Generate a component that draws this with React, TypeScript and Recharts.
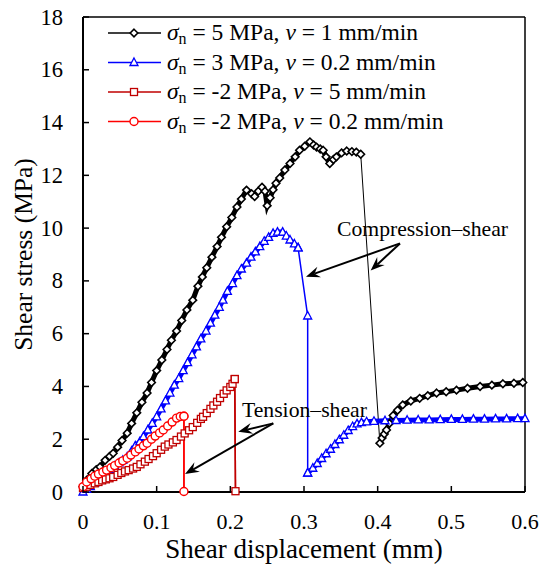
import React from 'react';
import { ComposedChart, Line, XAxis, YAxis, ReferenceLine, ReferenceDot } from 'recharts';

const FONT = "'Liberation Serif', 'Times New Roman', Times, serif";
const TXT = { fontFamily: FONT };

// sigma_n = 5 MPa, v = 1 mm/min
const blackX = [
  0, 0.005, 0.012, 0.018, 0.023, 0.03, 0.036, 0.041, 0.047, 0.053, 0.06, 0.066, 0.073, 0.08, 0.087, 0.093,
  0.1, 0.107, 0.114, 0.12, 0.127, 0.134, 0.141, 0.149, 0.156, 0.162, 0.168, 0.175, 0.182, 0.188, 0.195,
  0.202, 0.209, 0.215, 0.222, 0.229, 0.233, 0.238, 0.243, 0.247, 0.25, 0.254, 0.258, 0.262, 0.267, 0.274,
  0.281, 0.288, 0.294, 0.301, 0.308, 0.313, 0.317, 0.322, 0.326, 0.33, 0.335, 0.34, 0.344, 0.351, 0.358,
  0.365, 0.371, 0.377,
  0.403, 0.406, 0.409, 0.412, 0.416, 0.421, 0.427, 0.434, 0.445, 0.457, 0.468, 0.48, 0.493, 0.507, 0.522,
  0.539, 0.555, 0.57, 0.585, 0.597,
];
const blackY = [
  0.2, 0.45, 0.7, 0.85, 0.95, 1.2, 1.35, 1.47, 1.7, 1.95, 2.23, 2.6, 3.0, 3.4, 3.75, 4.15,
  4.6, 5.0, 5.4, 5.75, 6.1, 6.5, 6.9, 7.27, 7.8, 8.15, 8.5, 8.9, 9.3, 9.65, 10.05,
  10.4, 10.8, 11.1, 11.44, 11.3, 11.2, 11.4, 11.55, 11.4, 10.85, 11.15, 11.45, 11.7, 11.9, 12.2,
  12.45, 12.7, 12.95, 13.1, 13.27, 13.15, 13.07, 13.0, 12.95, 12.7, 12.45, 12.6, 12.7, 12.85, 12.92,
  12.9, 12.88, 12.8,
  1.85, 2.05, 2.2, 2.35, 2.6, 2.9, 3.1, 3.3, 3.45, 3.55, 3.65, 3.75, 3.8, 3.86, 3.93,
  4.0, 4.05, 4.1, 4.12, 4.15,
];

// sigma_n = 3 MPa, v = 0.2 mm/min
const blueX = [
  0, 0.005, 0.01, 0.016, 0.021, 0.027, 0.032, 0.038, 0.043, 0.049, 0.054, 0.06, 0.066, 0.071, 0.077, 0.082,
  0.088, 0.094, 0.1, 0.106, 0.112, 0.118, 0.124, 0.13, 0.136, 0.142, 0.148, 0.154, 0.16, 0.167, 0.173,
  0.179, 0.185, 0.19, 0.196, 0.203, 0.209, 0.215, 0.222, 0.228, 0.234, 0.24, 0.246, 0.252, 0.258, 0.264,
  0.271, 0.276, 0.281, 0.287, 0.292, 0.305, 0.305,
  0.312, 0.318, 0.324, 0.33, 0.336, 0.342, 0.348, 0.354, 0.36, 0.366, 0.372, 0.378, 0.385, 0.395, 0.41,
  0.425, 0.44, 0.455, 0.47, 0.485, 0.5, 0.515, 0.53, 0.545, 0.56, 0.575, 0.59, 0.6,
];
const blueY = [
  0, 0.1, 0.2, 0.35, 0.45, 0.58, 0.7, 0.85, 0.98, 1.1, 1.2, 1.33, 1.55, 1.75, 1.9, 2.1,
  2.35, 2.6, 2.85, 3.15, 3.45, 3.75, 4.05, 4.3, 4.6, 4.9, 5.2, 5.5, 5.8, 6.1, 6.4,
  6.7, 7.0, 7.27, 7.6, 7.9, 8.2, 8.45, 8.67, 8.9, 9.1, 9.3, 9.5, 9.65, 9.8, 9.85,
  9.85, 9.7, 9.55, 9.4, 9.25, 6.67, 0.72,
  0.9, 1.08, 1.27, 1.45, 1.62, 1.8, 1.98, 2.15, 2.33, 2.48, 2.58, 2.63, 2.66, 2.68, 2.7,
  2.71, 2.72, 2.73, 2.73, 2.74, 2.75, 2.75, 2.76, 2.76, 2.77, 2.77, 2.78, 2.78,
];

// sigma_n = -2 MPa, v = 5 mm/min
const darkRedX = [
  0, 0.005, 0.01, 0.016, 0.021, 0.026, 0.031, 0.036, 0.041, 0.047, 0.052, 0.057, 0.062, 0.068, 0.073,
  0.078, 0.084, 0.089, 0.095, 0.1, 0.106, 0.111, 0.116, 0.122, 0.127, 0.133, 0.138, 0.144, 0.149, 0.155,
  0.16, 0.163, 0.168, 0.173, 0.177, 0.182, 0.186, 0.191, 0.195, 0.2, 0.203, 0.206, 0.207,
];
const darkRedY = [
  0.15, 0.2, 0.27, 0.33, 0.38, 0.44, 0.48, 0.52, 0.57, 0.65, 0.72, 0.78, 0.83, 0.89, 0.95,
  1.05, 1.15, 1.25, 1.36, 1.47, 1.6, 1.72, 1.8, 1.88, 1.97, 2.1, 2.22, 2.34, 2.46, 2.62,
  2.77, 2.85, 2.99, 3.15, 3.28, 3.42, 3.56, 3.72, 3.85, 3.98, 4.1, 4.28, 0.03,
];

// sigma_n = -2 MPa, v = 0.2 mm/min
const redX = [
  0, 0.005, 0.011, 0.016, 0.021, 0.027, 0.032, 0.038, 0.043, 0.049, 0.054, 0.06, 0.065, 0.071, 0.076,
  0.082, 0.087, 0.093, 0.098, 0.104, 0.109, 0.115, 0.121, 0.127, 0.132, 0.137, 0.137,
];
const redY = [
  0.2, 0.38, 0.5, 0.6, 0.68, 0.76, 0.83, 0.92, 1.0, 1.1, 1.18, 1.28, 1.4, 1.52, 1.63,
  1.75, 1.85, 2.0, 2.12, 2.24, 2.35, 2.5, 2.65, 2.8, 2.86, 2.87, 0.02,
];

const xTicks = [0, 0.1, 0.2, 0.3, 0.4, 0.5, 0.6];
const yTicks = [0, 2, 4, 6, 8, 10, 12, 14, 16, 18];

const legendRows = [
  { sigma: '5', v: '1', color: '#000000', marker: 'diamond' },
  { sigma: '3', v: '0.2', color: '#0000ff', marker: 'triangle' },
  { sigma: '-2', v: '5', color: '#c00000', marker: 'square' },
  { sigma: '-2', v: '0.2', color: '#ff0000', marker: 'circle' },
];

const toPoints = (xs: number[], ys: number[]) => xs.map((x, i) => ({ x, y: ys[i] }));
const blackData = toPoints(blackX, blackY);
const blueData = toPoints(blueX, blueY);
const darkRedData = toPoints(darkRedX, darkRedY);
const redData = toPoints(redX, redY);

// dense recorded stretches (the drops between them are single segments)
const blackPre = blackData.slice(0, 64);
const blackPost = blackData.slice(64);
const bluePre = blueData.slice(0, 51);
const bluePost = blueData.slice(52);
const darkRedPre = darkRedData.slice(0, 42);
const redPre = redData.slice(0, 26);

function Marker({ type, cx, cy, color }: { type: string; cx: number; cy: number; color: string }) {
  if (type === 'diamond') {
    const s = 3.8;
    return <polygon points={`${cx},${cy - s} ${cx + s},${cy} ${cx},${cy + s} ${cx - s},${cy}`} fill="#fff" stroke={color} strokeWidth={1.6} />;
  }
  if (type === 'triangle') {
    return <polygon points={`${cx},${cy - 4.5} ${cx + 4},${cy + 3} ${cx - 4},${cy + 3}`} fill="#fff" stroke={color} strokeWidth={1.3} />;
  }
  if (type === 'square') {
    return <rect x={cx - 3.5} y={cy - 3.5} width={7} height={7} fill="#fff" stroke={color} strokeWidth={1.3} />;
  }
  return <circle cx={cx} cy={cy} r={4} fill="#fff" stroke={color} strokeWidth={1.4} />;
}

const dotFor = (type: string, color: string) => (p: any) => (
  <Marker key={`${type}-${p.index}`} type={type} cx={p.cx} cy={p.cy} color={color} />
);

const XTick = ({ x, y, payload }: any) => (
  <g>
    <line x1={x} y1={y} x2={x} y2={y - 6} stroke="#000" strokeWidth={1.5} />
    <text x={x} y={y + 37} textAnchor="middle" style={TXT} fontSize={22} fill="#000">
      {String(payload.value)}
    </text>
  </g>
);

const YTick = ({ x, y, payload }: any) => (
  <g>
    <line x1={x} y1={y} x2={x + 6} y2={y} stroke="#000" strokeWidth={1.5} />
    <text x={x - 20} y={y + 7.5} textAnchor="end" style={TXT} fontSize={22.5} fill="#000">
      {String(payload.value)}
    </text>
  </g>
);

// line with a filled, notched arrow head at the second point
const arrowShape = (p: any) => {
  const { x1, y1, x2, y2 } = p;
  const a = Math.atan2(y2 - y1, x2 - x1);
  const c = Math.cos(a), s = Math.sin(a);
  const L = 14, W = 5.5;
  const bx = x2 - L * c, by = y2 - L * s;
  const nx = x2 - L * 0.65 * c, ny = y2 - L * 0.65 * s;
  return (
    <g>
      <line x1={x1} y1={y1} x2={nx} y2={ny} stroke="#000" strokeWidth={2} />
      <polygon
        points={`${x2},${y2} ${bx - s * W},${by + c * W} ${nx},${ny} ${bx + s * W},${by - c * W}`}
        fill="#000"
      />
    </g>
  );
};

const noteShape = (text: string) => (p: any) => (
  <text x={p.cx} y={p.cy} style={TXT} fontSize={21.7} fill="#000">{text}</text>
);

const XLabel = ({ viewBox }: any) => (
  <text x={viewBox.x + viewBox.width / 2} y={558} textAnchor="middle" style={TXT} fontSize={27} fill="#000">
    Shear displacement (mm)
  </text>
);

const YLabel = ({ viewBox }: any) => {
  const cy = viewBox.y + viewBox.height / 2;
  return (
    <text x={32} y={cy} transform={`rotate(-90 32 ${cy})`} textAnchor="middle" style={TXT} fontSize={25.5} fill="#000">
      Shear stress (MPa)
    </text>
  );
};

function LegendBlock() {
  return (
    <g>
      {legendRows.map((r, i) => {
        const cy = 33 + i * 29.5;
        return (
          <g key={i}>
            <line x1={108} y1={cy} x2={161} y2={cy} stroke={r.color} strokeWidth={1.5} />
            <Marker type={r.marker} cx={134} cy={cy} color={r.color} />
            <text x={167} y={cy + 7} style={TXT} fontSize={23.5} fill="#000">
              <tspan fontStyle="italic">σ</tspan>
              <tspan fontSize={16} dy={4}>n</tspan>
              <tspan dy={-4}>{` = ${r.sigma} MPa, `}</tspan>
              <tspan fontStyle="italic">v</tspan>
              <tspan>{` = ${r.v} mm/min`}</tspan>
            </text>
          </g>
        );
      })}
    </g>
  );
}

const band = (data: any[], color: string, marker: string, width = 5) => (
  <Line data={data} dataKey="y" type="linear" stroke={color} strokeWidth={width} dot={dotFor(marker, color)} activeDot={false} isAnimationActive={false} />
);

export default function App() {
  return (
    <div style={{ position: 'absolute', left: 0, top: 0, background: '#fff', fontFamily: FONT }}>
      <ComposedChart width={542} height={564} margin={{ top: 17, right: 17, bottom: 0, left: 0 }} style={TXT}>
        <XAxis
          type="number"
          dataKey="x"
          domain={[0, 0.6]}
          ticks={xTicks}
          height={72}
          tickSize={0}
          tickMargin={0}
          tickLine={false}
          tick={<XTick />}
          axisLine={{ stroke: '#000', strokeWidth: 2 }}
          label={<XLabel />}
        />
        <YAxis
          type="number"
          domain={[0, 18]}
          ticks={yTicks}
          width={83}
          tickSize={0}
          tickMargin={0}
          tickLine={false}
          tick={<YTick />}
          axisLine={{ stroke: '#000', strokeWidth: 2 }}
          label={<YLabel />}
        />
        <ReferenceLine x={0.6} stroke="#000" strokeWidth={1.5} />
        <ReferenceLine y={18} stroke="#000" strokeWidth={1.5} />

        <Line data={blackData} dataKey="y" type="linear" stroke="#000" strokeWidth={1} dot={false} activeDot={false} isAnimationActive={false} />
        {band(blackPre, '#000', 'diamond')}
        {band(blackPost, '#000', 'diamond')}
        <Line data={blueData} dataKey="y" type="linear" stroke="#0000ff" strokeWidth={1.5} dot={false} activeDot={false} isAnimationActive={false} />
        {band(bluePre, '#0000ff', 'triangle')}
        {band(bluePost, '#0000ff', 'triangle')}
        <Line data={blueData.slice(50, 53)} dataKey="y" type="linear" stroke="#0000ff" strokeWidth={0} dot={dotFor('triangle', '#0000ff')} activeDot={false} isAnimationActive={false} />
        <Line data={darkRedData} dataKey="y" type="linear" stroke="#c00000" strokeWidth={1.5} dot={false} activeDot={false} isAnimationActive={false} />
        {band(darkRedPre, '#c00000', 'square', 6)}
        <Line data={darkRedData.slice(41)} dataKey="y" type="linear" stroke="#c00000" strokeWidth={1.5} dot={dotFor('square', '#c00000')} activeDot={false} isAnimationActive={false} />
        <Line data={redData} dataKey="y" type="linear" stroke="#ff0000" strokeWidth={1.5} dot={false} activeDot={false} isAnimationActive={false} />
        {band(redPre, '#ff0000', 'circle', 6.5)}
        <Line data={redData.slice(25)} dataKey="y" type="linear" stroke="#ff0000" strokeWidth={1.5} dot={dotFor('circle', '#ff0000')} activeDot={false} isAnimationActive={false} />

        <ReferenceLine segment={[{ x: 0.4303, y: 9.42 }, { x: 0.3027, y: 8.16 }]} shape={arrowShape} />
        <ReferenceLine segment={[{ x: 0.4303, y: 9.42 }, { x: 0.3905, y: 8.39 }]} shape={arrowShape} />
        <ReferenceLine segment={[{ x: 0.2583, y: 2.6 }, { x: 0.2108, y: 2.285 }]} shape={arrowShape} />
        <ReferenceLine segment={[{ x: 0.2583, y: 2.6 }, { x: 0.1385, y: 0.68 }]} shape={arrowShape} />
        <ReferenceDot x={0.3448} y={9.7} r={0} shape={noteShape('Compression–shear')} />
        <ReferenceDot x={0.2158} y={2.84} r={0} shape={noteShape('Tension–shear')} />

        <LegendBlock />
      </ComposedChart>
    </div>
  );
}
